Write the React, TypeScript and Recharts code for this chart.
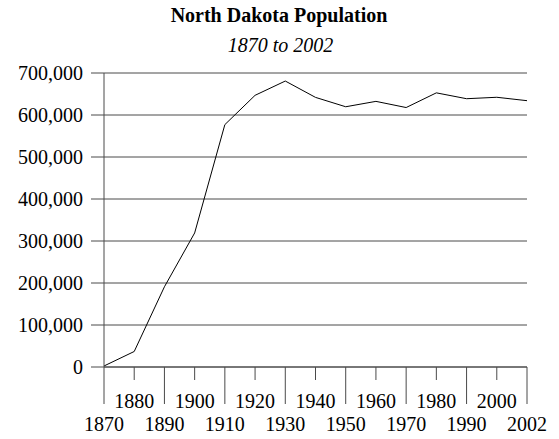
import React from 'react';
import { LineChart, Line, XAxis, YAxis, CartesianGrid } from 'recharts';

const years = ['1870', '1880', '1890', '1900', '1910', '1920', '1930', '1940', '1950', '1960', '1970', '1980', '1990', '2000', '2002'];
const population = [2405, 36909, 190983, 319146, 577056, 646872, 680845, 641935, 619636, 632446, 617761, 652717, 638800, 642200, 634110];
const yTicks = [0, 100000, 200000, 300000, 400000, 500000, 600000, 700000];
const title = 'North Dakota Population';
const subtitle = '1870 to 2002';

const data = years.map((y, i) => ({ year: y, pop: population[i] }));

const FONT = 'Liberation Serif, Times New Roman, serif';
const GRID = '#4a4a4a';

const XTick = (props: any) => {
  const { x, y, payload, index } = props;
  const long = index % 2 === 0;
  return (
    <g>
      <line x1={x} x2={x} y1={y} y2={y + (long ? 37 : 13)} stroke={GRID} strokeWidth={1} />
      <text x={x} y={y + (long ? 64 : 41)} textAnchor="middle" style={{ fontFamily: FONT, fontSize: 20 }} fill="#000">
        {payload.value}
      </text>
    </g>
  );
};

const YTick = (props: any) => {
  const { x, y, payload } = props;
  return (
    <text x={x} y={y} dy={7} textAnchor="end" style={{ fontFamily: FONT, fontSize: 20 }} fill="#000">
      {Number(payload.value).toLocaleString('en-US')}
    </text>
  );
};

export default function App() {
  return (
    <div style={{ position: 'absolute', left: 0, top: 0, width: 559, height: 439, background: '#fff' }}>
      <svg width={559} height={60} style={{ position: 'absolute', left: 0, top: 0 }}>
        <text x={279} y={22} textAnchor="middle" style={{ fontFamily: FONT, fontWeight: 'bold', fontSize: 20 }} fill="#000">{title}</text>
        <text x={280.5} y={52} textAnchor="middle" style={{ fontFamily: FONT, fontStyle: 'italic', fontSize: 20 }} fill="#000">{subtitle}</text>
      </svg>
      <div style={{ position: 'absolute', left: 0, top: 0 }}>
        <LineChart width={559} height={439} data={data} margin={{ top: 73, right: 32, bottom: 0, left: 0 }}>
          <CartesianGrid vertical={false} stroke={GRID} strokeDasharray="" />
          <XAxis
            dataKey="year"
            interval={0}
            height={72}
            axisLine={{ stroke: GRID }}
            tickLine={false}
            tickSize={0}
            tickMargin={0}
            tick={<XTick />}
          />
          <YAxis
            width={104}
            domain={[0, 700000]}
            ticks={yTicks}
            interval={0}
            axisLine={{ stroke: GRID }}
            tickLine={{ stroke: GRID }}
            tickSize={13}
            tickMargin={8}
            tick={<YTick />}
          />
          <Line type="linear" dataKey="pop" stroke="#000" strokeWidth={1} dot={false} isAnimationActive={false} />
        </LineChart>
      </div>
    </div>
  );
}
